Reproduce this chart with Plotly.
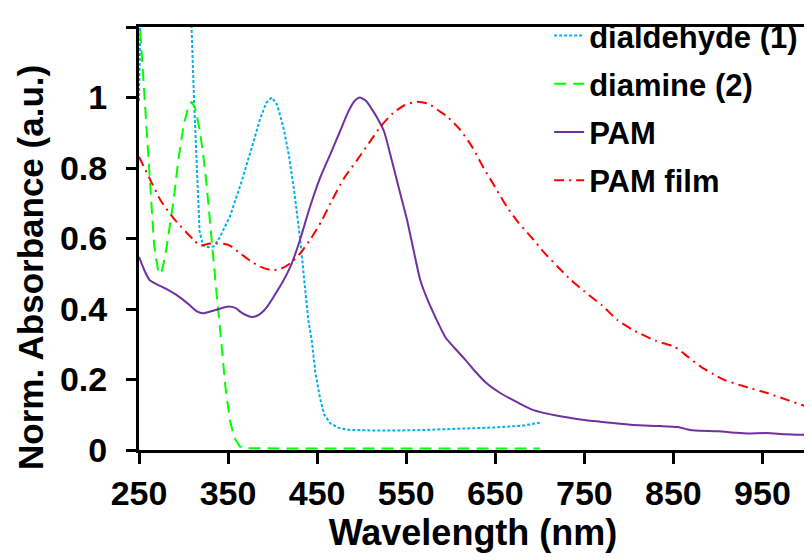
import plotly.graph_objects as go

# ---- data ----
dialdehyde_wl = [250, 252, 305, 309, 312, 315, 318, 322, 328, 334, 340, 352, 365, 378, 386, 393, 399,
                 405, 412, 418, 424, 431, 436, 440, 444, 448, 453, 458, 465, 475, 487, 520, 560, 600,
                 650, 680, 700]
dialdehyde_abs = [0.99, 1.3, 1.3, 1.2, 0.98, 0.78, 0.62, 0.58, 0.575, 0.578, 0.60, 0.662, 0.76, 0.87,
                  0.94, 0.985, 1.0, 0.98, 0.917, 0.84, 0.74, 0.596, 0.48, 0.37, 0.31, 0.22, 0.15, 0.10,
                  0.075, 0.062, 0.057, 0.055, 0.056, 0.059, 0.064, 0.069, 0.077]

diamine_wl = [250, 251, 255, 259, 263, 267, 272, 276, 280, 284, 289, 294, 300, 305, 309, 313, 318, 322,
              326, 330, 334, 338, 343, 347, 352, 357, 363, 370, 450, 550, 650, 700]
diamine_abs = [1.35, 1.2, 1.05, 0.89, 0.72, 0.58, 0.50, 0.51, 0.56, 0.63, 0.71, 0.82, 0.92, 0.97, 0.988,
               0.97, 0.91, 0.84, 0.75, 0.64, 0.52, 0.42, 0.29, 0.18, 0.085, 0.035, 0.01, 0.005, 0.004,
               0.004, 0.004, 0.004]

pam_wl = [250, 256, 262, 270, 280, 292, 305, 315, 322, 330, 340, 350, 358, 366, 375, 382, 388, 394, 400,
          412, 420, 430, 442, 453, 465, 475, 485, 492, 498, 505, 512, 518, 525, 532, 540, 551, 558, 566,
          575, 585, 594, 604, 615, 626, 640, 656, 675, 693, 720, 750, 780, 805, 835, 855, 865, 875, 900,
          920, 933, 955, 975, 1000]
pam_abs = [0.548, 0.51, 0.482, 0.47, 0.458, 0.44, 0.415, 0.393, 0.388, 0.393, 0.40, 0.407, 0.403, 0.388,
           0.378, 0.38, 0.39, 0.407, 0.43, 0.48, 0.52, 0.59, 0.69, 0.77, 0.84, 0.90, 0.96, 0.99, 1.0,
           0.99, 0.965, 0.94, 0.905, 0.84, 0.76, 0.652, 0.57, 0.48, 0.42, 0.365, 0.32, 0.29, 0.26, 0.227,
           0.19, 0.161, 0.135, 0.113, 0.097, 0.085, 0.077, 0.071, 0.068, 0.065, 0.059, 0.055, 0.053,
           0.049, 0.047, 0.048, 0.045, 0.043]

film_wl = [250, 262, 274, 288, 304, 312, 319, 328, 337, 345, 352, 364, 376, 386, 399, 410, 420, 431, 443,
           455, 465, 480, 495, 508, 521, 535, 548, 562, 575, 588, 596, 610, 624, 637, 650, 663, 676, 690,
           705, 720, 735, 750, 770, 787, 805, 830, 851, 866, 881, 895, 907, 930, 956, 980, 1000]
film_abs = [0.832, 0.77, 0.709, 0.66, 0.615, 0.595, 0.58, 0.585, 0.586, 0.585, 0.58, 0.557, 0.535, 0.52,
            0.51, 0.515, 0.53, 0.558, 0.60, 0.65, 0.70, 0.77, 0.823, 0.87, 0.917, 0.955, 0.978, 0.988,
            0.982, 0.96, 0.946, 0.91, 0.86, 0.80, 0.745, 0.69, 0.645, 0.605, 0.56, 0.52, 0.482, 0.45,
            0.41, 0.369, 0.34, 0.31, 0.293, 0.265, 0.236, 0.215, 0.199, 0.18, 0.161, 0.14, 0.123]

x_ticks = [250, 350, 450, 550, 650, 750, 850, 950]
y_ticks = [0, 0.2, 0.4, 0.6, 0.8, 1.0, 1.2]
y_tick_labels = ["0", "0.2", "0.4", "0.6", "0.8", "1", "1.2"]

FONT = "Liberation Sans, Arial, sans-serif"

fig = go.Figure()
fig.add_trace(go.Scatter(x=dialdehyde_wl, y=dialdehyde_abs, mode="lines", name="dialdehyde (<b>1</b>)",
                         legendgroup="a",
                         line=dict(color="#00B0F0", width=2, dash="3px,2px")))
fig.add_trace(go.Scatter(x=diamine_wl, y=diamine_abs, mode="lines", name="diamine (<b>2</b>)",
                         legendgroup="b",
                         line=dict(color="#00FF00", width=2, dash="12px,7px")))
fig.add_trace(go.Scatter(x=pam_wl, y=pam_abs, mode="lines", name="PAM",
                         legendgroup="c",
                         line=dict(color="#7030A0", width=2, shape="spline", smoothing=0.6)))
fig.add_trace(go.Scatter(x=film_wl, y=film_abs, mode="lines", name="PAM film",
                         legendgroup="d",
                         line=dict(color="#FF0000", width=2, dash="10px,5px,2px,5px",
                                   shape="spline", smoothing=0.6)))

# The page adds an 8px body margin, so the figure is sized/offset to compensate.
fig.update_layout(
    width=804, height=552,
    margin=dict(l=131, r=5, t=19, b=110, autoexpand=False),
    paper_bgcolor="white", plot_bgcolor="white",
    font=dict(family=FONT, color="black"),
    legend=dict(x=0.614, y=1.043, xanchor="left", yanchor="top", bgcolor="rgba(0,0,0,0)",
                font=dict(size=31, family=FONT, weight="bold"), tracegroupgap=5,
                traceorder="grouped", itemwidth=30),
    xaxis=dict(range=[250, 1000], tickvals=x_ticks, ticks="outside", ticklen=11, tickwidth=3,
               tickcolor="black", showline=True, linewidth=3, linecolor="black", mirror=True,
               showgrid=False, zeroline=False,
               tickfont=dict(size=34, family=FONT, weight="bold"),
               title=dict(text="Wavelength (nm)", font=dict(size=36, family=FONT, weight="bold"),
                          standoff=9)),
    yaxis=dict(range=[0, 1.2], tickvals=y_ticks, ticktext=y_tick_labels, ticks="outside", ticklen=10,
               tickwidth=3, tickcolor="black", showline=True, linewidth=3, linecolor="black",
               mirror=True, showgrid=False, zeroline=False, ticklabelstandoff=12,
               tickfont=dict(size=34, family=FONT, weight="bold")),
    annotations=[dict(text="Norm. Absorbance (a.u.)", textangle=-90, showarrow=False,
                      xref="paper", yref="paper", x=(30 - 139) / 668, y=(450 - 268) / 423,
                      xanchor="center", yanchor="middle",
                      font=dict(size=35, family=FONT, weight="bold"))],
)

fig.write_html("out.html")
